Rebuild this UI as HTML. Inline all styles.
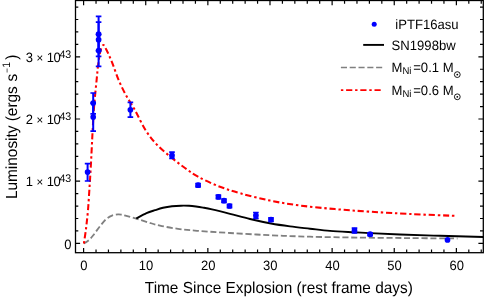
<!DOCTYPE html>
<html><head><meta charset="utf-8"><title>chart</title>
<style>
html,body{margin:0;padding:0;background:#fff;}
body{width:485px;height:298px;position:relative;overflow:hidden;font-family:"Liberation Sans",sans-serif;color:#000;}
#w{position:absolute;left:0;top:0;width:485px;height:298px;will-change:transform;}
#w svg{position:absolute;left:0;top:0;display:block;}
</style></head><body><div id="w">
<svg width="485" height="298" viewBox="0 0 485 298">
<path d="M83.70 243.50 C84.22 243.22 85.73 242.55 86.80 241.80 C87.87 241.05 89.03 240.08 90.10 239.00 C91.17 237.92 92.20 236.57 93.20 235.30 C94.20 234.03 94.85 233.05 96.10 231.40 C97.35 229.75 99.07 227.41 100.70 225.40 C102.33 223.39 104.02 220.98 105.90 219.35 C107.78 217.72 109.98 216.42 112.00 215.60 C114.02 214.78 116.33 214.53 118.00 214.40 C119.67 214.27 120.62 214.55 122.00 214.80 C123.38 215.05 123.93 215.27 126.30 215.90 C128.67 216.53 132.58 217.53 136.20 218.60 C139.82 219.67 144.03 221.12 148.00 222.30 C151.97 223.48 155.00 224.62 160.00 225.70 C165.00 226.78 171.83 227.95 178.00 228.80 C184.17 229.65 188.33 230.10 197.00 230.80 C205.67 231.50 217.83 232.27 230.00 233.00 C242.17 233.73 256.67 234.58 270.00 235.20 C283.33 235.82 295.00 236.30 310.00 236.70 C325.00 237.10 343.33 237.37 360.00 237.60 C376.67 237.83 393.75 237.95 410.00 238.10 C426.25 238.25 449.58 238.43 457.50 238.50" fill="none" stroke="#808080" stroke-width="1.8" stroke-dasharray="6.1 2.7"/>
<path d="M136.20 218.50 C137.92 217.62 143.37 214.58 146.50 213.20 C149.63 211.82 152.25 211.10 155.00 210.20 C157.75 209.30 160.17 208.45 163.00 207.80 C165.83 207.15 169.00 206.65 172.00 206.30 C175.00 205.95 178.17 205.78 181.00 205.70 C183.83 205.62 186.50 205.67 189.00 205.80 C191.50 205.93 193.67 206.20 196.00 206.50 C198.33 206.80 200.33 207.12 203.00 207.60 C205.67 208.08 207.50 208.37 212.00 209.40 C216.50 210.43 223.67 212.20 230.00 213.80 C236.33 215.40 243.17 217.38 250.00 219.00 C256.83 220.62 264.33 222.27 271.00 223.50 C277.67 224.73 283.50 225.53 290.00 226.40 C296.50 227.27 303.33 227.95 310.00 228.70 C316.67 229.45 322.67 230.30 330.00 230.90 C337.33 231.50 347.33 231.93 354.00 232.30 C360.67 232.67 362.33 232.73 370.00 233.10 C377.67 233.47 388.33 234.05 400.00 234.50 C411.67 234.95 426.08 235.38 440.00 235.80 C453.92 236.22 476.25 236.80 483.50 237.00" fill="none" stroke="#000" stroke-width="1.9"/>
<path d="M83.90 243.50 C84.27 240.92 85.42 233.58 86.10 228.00 C86.78 222.42 87.46 216.33 88.00 210.00 C88.54 203.67 88.92 196.67 89.35 190.00 C89.78 183.33 90.22 176.67 90.60 170.00 C90.98 163.33 91.31 156.63 91.65 150.00 C91.99 143.37 92.23 137.67 92.65 130.20 C93.08 122.73 93.54 113.53 94.20 105.20 C94.86 96.87 95.95 86.83 96.60 80.20 C97.25 73.57 97.48 70.20 98.10 65.40 C98.72 60.60 99.45 54.78 100.30 51.40 C101.15 48.02 102.25 45.52 103.20 45.10 C104.15 44.68 104.95 47.02 106.00 48.90 C107.05 50.78 108.30 53.65 109.50 56.40 C110.70 59.15 111.67 61.43 113.20 65.40 C114.73 69.37 116.57 75.23 118.70 80.20 C120.83 85.17 123.28 90.20 126.00 95.20 C128.72 100.20 131.70 104.32 135.00 110.20 C138.30 116.08 142.07 124.67 145.80 130.50 C149.53 136.33 153.10 140.67 157.40 145.20 C161.70 149.73 167.00 153.90 171.60 157.70 C176.20 161.50 180.60 164.83 185.00 168.00 C189.40 171.17 192.50 173.70 198.00 176.70 C203.50 179.70 211.00 183.25 218.00 186.00 C225.00 188.75 231.33 190.77 240.00 193.20 C248.67 195.63 260.00 198.55 270.00 200.60 C280.00 202.65 289.17 204.08 300.00 205.50 C310.83 206.92 323.33 208.07 335.00 209.10 C346.67 210.13 357.50 210.88 370.00 211.70 C382.50 212.52 395.70 213.30 410.00 214.00 C424.30 214.70 448.17 215.58 455.80 215.90" fill="none" stroke="#ff0000" stroke-width="2.05" stroke-dasharray="2.4 2.8 6.2 2.8"/>
<path d="M87.6 163.7V181.0" stroke="#0000ff" stroke-width="2.0" fill="none"/><path d="M84.8 163.7h5.6M84.8 181.0h5.6" stroke="#0000ff" stroke-width="1.7" fill="none"/>
<circle cx="87.6" cy="172.1" r="2.85" fill="#0000ff"/>
<path d="M93.2 93.0V113.8" stroke="#0000ff" stroke-width="2.0" fill="none"/><path d="M90.4 93.0h5.6M90.4 113.8h5.6" stroke="#0000ff" stroke-width="1.7" fill="none"/>
<circle cx="93.2" cy="103.1" r="2.85" fill="#0000ff"/>
<path d="M93.2 103.2V131.1" stroke="#0000ff" stroke-width="2.0" fill="none"/><path d="M90.4 103.2h5.6M90.4 131.1h5.6" stroke="#0000ff" stroke-width="1.7" fill="none"/>
<circle cx="93.2" cy="117.1" r="2.85" fill="#0000ff"/>
<path d="M98.6 16.3V50.9" stroke="#0000ff" stroke-width="2.0" fill="none"/><path d="M95.8 16.3h5.6M95.8 50.9h5.6" stroke="#0000ff" stroke-width="1.7" fill="none"/>
<circle cx="98.6" cy="34.2" r="2.85" fill="#0000ff"/>
<path d="M98.6 22.2V56.4" stroke="#0000ff" stroke-width="2.0" fill="none"/><path d="M95.8 22.2h5.6M95.8 56.4h5.6" stroke="#0000ff" stroke-width="1.7" fill="none"/>
<circle cx="98.6" cy="39.7" r="2.85" fill="#0000ff"/>
<path d="M98.6 34.5V66.4" stroke="#0000ff" stroke-width="2.0" fill="none"/><path d="M95.8 34.5h5.6M95.8 66.4h5.6" stroke="#0000ff" stroke-width="1.7" fill="none"/>
<circle cx="98.6" cy="50.6" r="2.85" fill="#0000ff"/>
<path d="M130.4 102.3V117.1" stroke="#0000ff" stroke-width="2.0" fill="none"/><path d="M127.6 102.3h5.6M127.6 117.1h5.6" stroke="#0000ff" stroke-width="1.7" fill="none"/>
<circle cx="130.4" cy="109.8" r="2.85" fill="#0000ff"/>
<path d="M172.0 152.2V158.4" stroke="#0000ff" stroke-width="2.0" fill="none"/><path d="M169.2 152.2h5.6M169.2 158.4h5.6" stroke="#0000ff" stroke-width="1.7" fill="none"/>
<circle cx="172.0" cy="155.4" r="2.85" fill="#0000ff"/>
<path d="M198.1 183.5V186.9" stroke="#0000ff" stroke-width="2.0" fill="none"/><path d="M195.3 183.5h5.6M195.3 186.9h5.6" stroke="#0000ff" stroke-width="1.7" fill="none"/>
<circle cx="198.1" cy="185.2" r="2.85" fill="#0000ff"/>
<path d="M218.4 195.2V198.6" stroke="#0000ff" stroke-width="2.0" fill="none"/><path d="M215.6 195.2h5.6M215.6 198.6h5.6" stroke="#0000ff" stroke-width="1.7" fill="none"/>
<circle cx="218.4" cy="196.9" r="2.85" fill="#0000ff"/>
<path d="M224.0 199.0V202.4" stroke="#0000ff" stroke-width="2.0" fill="none"/><path d="M221.2 199.0h5.6M221.2 202.4h5.6" stroke="#0000ff" stroke-width="1.7" fill="none"/>
<circle cx="224.0" cy="200.7" r="2.85" fill="#0000ff"/>
<path d="M229.5 204.3V207.7" stroke="#0000ff" stroke-width="2.0" fill="none"/><path d="M226.7 204.3h5.6M226.7 207.7h5.6" stroke="#0000ff" stroke-width="1.7" fill="none"/>
<circle cx="229.5" cy="206.0" r="2.85" fill="#0000ff"/>
<path d="M255.9 212.5V218.3" stroke="#0000ff" stroke-width="2.0" fill="none"/><path d="M253.1 212.5h5.6M253.1 218.3h5.6" stroke="#0000ff" stroke-width="1.7" fill="none"/>
<circle cx="255.9" cy="215.4" r="2.85" fill="#0000ff"/>
<path d="M271.0 217.9V221.3" stroke="#0000ff" stroke-width="2.0" fill="none"/><path d="M268.2 217.9h5.6M268.2 221.3h5.6" stroke="#0000ff" stroke-width="1.7" fill="none"/>
<circle cx="271.0" cy="219.6" r="2.85" fill="#0000ff"/>
<path d="M354.5 228.2V233.0" stroke="#0000ff" stroke-width="2.0" fill="none"/><path d="M351.7 228.2h5.6M351.7 233.0h5.6" stroke="#0000ff" stroke-width="1.7" fill="none"/>
<circle cx="354.5" cy="230.6" r="2.85" fill="#0000ff"/>
<path d="M370.1 232.8V235.6" stroke="#0000ff" stroke-width="2.0" fill="none"/><path d="M367.3 232.8h5.6M367.3 235.6h5.6" stroke="#0000ff" stroke-width="1.7" fill="none"/>
<circle cx="370.1" cy="234.2" r="2.85" fill="#0000ff"/>
<circle cx="447.5" cy="239.9" r="2.85" fill="#0000ff"/>
<rect x="75.5" y="0.5" width="407.8" height="252.2" fill="none" stroke="#000" stroke-width="1.3"/>
<path d="M83.60 252.65v-4.7M83.60 0.5v4.7M96.03 252.65v-3.2M96.03 0.5v3.2M108.45 252.65v-3.2M108.45 0.5v3.2M120.88 252.65v-3.2M120.88 0.5v3.2M133.30 252.65v-3.2M133.30 0.5v3.2M145.73 252.65v-4.7M145.73 0.5v4.7M158.16 252.65v-3.2M158.16 0.5v3.2M170.58 252.65v-3.2M170.58 0.5v3.2M183.01 252.65v-3.2M183.01 0.5v3.2M195.43 252.65v-3.2M195.43 0.5v3.2M207.86 252.65v-4.7M207.86 0.5v4.7M220.29 252.65v-3.2M220.29 0.5v3.2M232.71 252.65v-3.2M232.71 0.5v3.2M245.14 252.65v-3.2M245.14 0.5v3.2M257.56 252.65v-3.2M257.56 0.5v3.2M269.99 252.65v-4.7M269.99 0.5v4.7M282.42 252.65v-3.2M282.42 0.5v3.2M294.84 252.65v-3.2M294.84 0.5v3.2M307.27 252.65v-3.2M307.27 0.5v3.2M319.69 252.65v-3.2M319.69 0.5v3.2M332.12 252.65v-4.7M332.12 0.5v4.7M344.55 252.65v-3.2M344.55 0.5v3.2M356.97 252.65v-3.2M356.97 0.5v3.2M369.40 252.65v-3.2M369.40 0.5v3.2M381.82 252.65v-3.2M381.82 0.5v3.2M394.25 252.65v-4.7M394.25 0.5v4.7M406.68 252.65v-3.2M406.68 0.5v3.2M419.10 252.65v-3.2M419.10 0.5v3.2M431.53 252.65v-3.2M431.53 0.5v3.2M443.95 252.65v-3.2M443.95 0.5v3.2M456.38 252.65v-4.7M456.38 0.5v4.7M468.81 252.65v-3.2M468.81 0.5v3.2M481.23 252.65v-3.2M481.23 0.5v3.2M75.5 243.40h4.6M483.3 243.40h-4.9M75.5 230.96h2.8M483.3 230.96h-3.3M75.5 218.52h2.8M483.3 218.52h-3.3M75.5 206.08h2.8M483.3 206.08h-3.3M75.5 193.64h2.8M483.3 193.64h-3.3M75.5 181.20h4.6M483.3 181.20h-4.9M75.5 168.76h2.8M483.3 168.76h-3.3M75.5 156.32h2.8M483.3 156.32h-3.3M75.5 143.88h2.8M483.3 143.88h-3.3M75.5 131.44h2.8M483.3 131.44h-3.3M75.5 119.00h4.6M483.3 119.00h-4.9M75.5 106.56h2.8M483.3 106.56h-3.3M75.5 94.12h2.8M483.3 94.12h-3.3M75.5 81.68h2.8M483.3 81.68h-3.3M75.5 69.24h2.8M483.3 69.24h-3.3M75.5 56.80h4.6M483.3 56.80h-4.9M75.5 44.36h2.8M483.3 44.36h-3.3M75.5 31.92h2.8M483.3 31.92h-3.3M75.5 19.48h2.8M483.3 19.48h-3.3M75.5 7.04h2.8M483.3 7.04h-3.3" stroke="#000" stroke-width="1.2" fill="none"/>
<circle cx="374.2" cy="24.2" r="2.5" fill="#0000ff"/>
<path d="M363.2 44.9H384" stroke="#000" stroke-width="1.9"/>
<path d="M340.9 67.4H382.3" stroke="#808080" stroke-width="1.5" stroke-dasharray="6.1 2.7"/>
<path d="M340.9 90.2H381.2" stroke="#ff0000" stroke-width="1.7" stroke-dasharray="2.4 2.8 6.2 2.8"/>
<circle cx="457.3" cy="74.6" r="2.9" fill="none" stroke="#000" stroke-width="0.9"/><circle cx="457.3" cy="74.6" r="0.9" fill="#000"/>
<circle cx="457.3" cy="96.8" r="2.9" fill="none" stroke="#000" stroke-width="0.9"/><circle cx="457.3" cy="96.8" r="0.9" fill="#000"/>
<g font-family="'Liberation Sans', sans-serif" fill="#000" text-rendering="geometricPrecision">
<text transform="translate(83.90 269.70) scale(1 1.040)" font-size="13" text-anchor="middle">0</text>
<text transform="translate(146.03 269.70) scale(1 1.040)" font-size="13" text-anchor="middle">10</text>
<text transform="translate(208.16 269.70) scale(1 1.040)" font-size="13" text-anchor="middle">20</text>
<text transform="translate(270.29 269.70) scale(1 1.040)" font-size="13" text-anchor="middle">30</text>
<text transform="translate(332.42 269.70) scale(1 1.040)" font-size="13" text-anchor="middle">40</text>
<text transform="translate(394.55 269.70) scale(1 1.040)" font-size="13" text-anchor="middle">50</text>
<text transform="translate(456.68 269.70) scale(1 1.040)" font-size="13" text-anchor="middle">60</text>
<text transform="translate(71.40 248.50) scale(1 1.040)" font-size="13" text-anchor="end">0</text>
<text transform="translate(71.00 186.30) scale(1 1.040)" font-size="13" text-anchor="end">1<tspan dx="3.4" font-size="11.5">×</tspan><tspan dx="3.6" letter-spacing="-0.5">10</tspan><tspan dx="-0.6" dy="-4.2" font-size="10.6" letter-spacing="-0.2">43</tspan></text>
<text transform="translate(71.00 124.10) scale(1 1.040)" font-size="13" text-anchor="end">2<tspan dx="3.4" font-size="11.5">×</tspan><tspan dx="3.6" letter-spacing="-0.5">10</tspan><tspan dx="-0.6" dy="-4.2" font-size="10.6" letter-spacing="-0.2">43</tspan></text>
<text transform="translate(71.00 61.90) scale(1 1.040)" font-size="13" text-anchor="end">3<tspan dx="3.4" font-size="11.5">×</tspan><tspan dx="3.6" letter-spacing="-0.5">10</tspan><tspan dx="-0.6" dy="-4.2" font-size="10.6" letter-spacing="-0.2">43</tspan></text>
<text transform="translate(144.80 293.20) scale(1 1.040)" font-size="15.4" text-anchor="start">Time Since Explosion (rest frame days)</text>
<text transform="translate(16.6 199.1) rotate(-90) scale(1 1.040)" font-size="15.4">Luminosity (ergs<tspan dx="4.6">s</tspan><tspan dy="-6.1" dx="0.9" font-size="8.5">&#x2212;</tspan><tspan dx="0.4" font-size="10.5">1</tspan><tspan dy="6.1" dx="2">)</tspan></text>
<text transform="translate(395.30 29.20) scale(1 1.040)" font-size="13.1" text-anchor="start">iPTF16asu</text>
<text transform="translate(391.60 49.50) scale(1 1.040)" font-size="13.1" text-anchor="start">SN1998bw</text>
<text transform="translate(391.50 72.00) scale(1 1.040)" font-size="13.1" text-anchor="start">M<tspan dy="2.2" font-size="9.5">Ni</tspan><tspan dy="-2.2" dx="1.8">=0.1 M</tspan></text>
<text transform="translate(391.50 94.60) scale(1 1.040)" font-size="13.1" text-anchor="start">M<tspan dy="2.2" font-size="9.5">Ni</tspan><tspan dy="-2.2" dx="1.8">=0.6 M</tspan></text>
</g>
</svg>
</div></body></html>
